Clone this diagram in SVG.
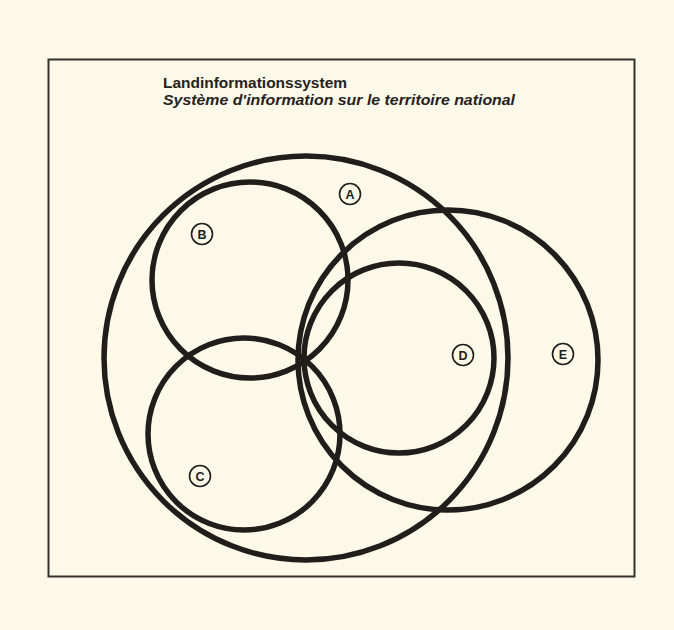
<svg xmlns="http://www.w3.org/2000/svg" width="674" height="630" viewBox="0 0 674 630">
<style>
.set{fill:none;stroke:#201d1a;stroke-width:5.5}
.lab circle{fill:none;stroke:#201d1a;stroke-width:1.6}
.lab text{font-family:"Liberation Sans",Arial,sans-serif;font-size:12.5px;font-weight:bold;fill:#201d1a;text-anchor:middle}
.t{font-family:"Liberation Sans",Arial,sans-serif;font-size:14px;font-weight:bold;fill:#26221e}
</style>
<rect width="674" height="630" fill="#fdf9e8"/>
<rect x="48.5" y="59.5" width="586" height="517" fill="none" stroke="#35322c" stroke-width="2"/>
<g id="title">
<text class="t" x="163" y="88" textLength="184" lengthAdjust="spacingAndGlyphs">Landinformationssystem</text>
<text class="t" x="163" y="105" font-style="italic" textLength="352" lengthAdjust="spacingAndGlyphs">Système d'information sur le territoire national</text>
</g>
<g id="A"><circle class="set" cx="306" cy="358" r="202"/><g class="lab"><circle cx="350" cy="194" r="10.5"/><text x="350" y="198.5">A</text></g></g>
<g id="B"><circle class="set" cx="250" cy="280" r="98"/><g class="lab"><circle cx="202" cy="234" r="10.5"/><text x="202" y="238.5">B</text></g></g>
<g id="C"><circle class="set" cx="244" cy="434" r="96"/><g class="lab"><circle cx="200" cy="476" r="10.5"/><text x="200" y="480.5">C</text></g></g>
<g id="D"><circle class="set" cx="399" cy="358" r="95"/><g class="lab"><circle cx="463" cy="355" r="10.5"/><text x="463" y="359.5">D</text></g></g>
<g id="E"><circle class="set" cx="448" cy="360" r="150"/><g class="lab"><circle cx="563" cy="354" r="10.5"/><text x="563" y="358.5">E</text></g></g>
<g id="connectors"/>
</svg>
